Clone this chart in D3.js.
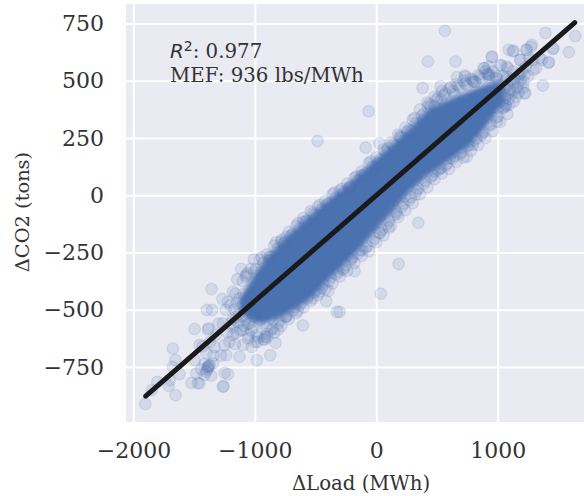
<!DOCTYPE html>
<html>
<head>
<meta charset="utf-8">
<script src="https://cdn.jsdelivr.net/npm/d3@7"></script>
<style>
  html, body { margin: 0; background: #fff; }
  svg { display: block; }
  text { font-family: "DejaVu Serif", serif; fill: #333; }
</style>
</head>
<body>
<div id="scatterplot-container"></div>
<script>
const xTicks = [-2000, -1000, 0, 1000];
const yTicks = [-750, -500, -250, 0, 250, 500, 750];

// regression line ends
const lineLoad = [-1899, 1635];
const lineCo2 = [-877, 754];

// the saturated middle of the cloud, read as an envelope
const coreLoad = [-1126, -1043, -961, -879, -796, -714, -632, -549, -385, -220, -55, 110, 274, 439, 604, 768, 933, 1057];
const coreUpper = [-455, -375, -312, -257, -213, -169, -130, -90, -16, 54, 132, 211, 290, 381, 421, 456, 491, 495];
const coreLower = [-500, -545, -560, -552, -536, -510, -484, -453, -366, -280, -188, -88, 14, 93, 154, 215, 320, 408];

// outliers read one by one
const outlierPoints = [
  [-483,237],[565,718],[425,584],[653,584],[381,468],[530,476],[664,516],[730,523],[-63,367],[-88,208],
  [27,227],[746,169],[1394,709],[1639,695],[1586,625],[1372,479],[1092,635],[955,603],[1454,639],[1421,581],
  [1276,649],[1235,635],[1125,628],[1188,591],[1345,599],[892,555],[1029,566],[1084,555],[933,526],[795,496],
  [1317,555],[1221,446],[645,441],[535,419],[425,385],[480,390],[384,326],[288,282],[198,253],[96,205],
  [-6,125],[-124,86],[-220,31],[795,220],[865,263],[604,162],[535,118],[480,103],[324,4],[233,-6],
  [170,-82],[346,-120],[104,-142],[27,-163],[-115,-239],[-206,-280],[-179,-331],[-275,-326],[184,-300],[38,-430],
  [-302,-509],[-1902,-911],[-1848,-851],[-1803,-815],[-1653,-873],[-1710,-832],[-1702,-807],[-1675,-669],[-1653,-720],[-1675,-749],
  [-1620,-781],[-1523,-819],[-1455,-822],[-1469,-819],[-1257,-833],[-1263,-836],[-1222,-781],[-1249,-775],[-1359,-788],[-1414,-785],
  [-1482,-778],[-1387,-749],[-1414,-737],[-1373,-742],[-1346,-734],[-1496,-720],[-1455,-654],[-1496,-584],[-1387,-586],[-1380,-580],
  [-1395,-501],[-1351,-501],[-1356,-409],[-1268,-453],[-1222,-465],[-1181,-421],[-1145,-367],[-1112,-322],[-1008,-280],[-1071,-348],
  [-879,-268],[-782,-203],[-741,-181],[-604,-115],[-1332,-662],[-1249,-654],[-1235,-698],[-1126,-705],[-1099,-654],[-1024,-662],
  [-983,-720],[-873,-698],[-829,-644],[-898,-620],[-810,-586],[-604,-568],[-741,-530],[-645,-504],[-412,-462],[-393,-417],
  [-324,-509],[-522,-450],[-467,-421],[-851,-545],[-1181,-610],[-1263,-559],[-1181,-574],[-1099,-589],[-1043,-559],[-961,-545],
  [-906,-574],[-1153,-530],[1131,631],[952,606],[1281,657],[1240,635],[1186,591],[1419,579],[1460,642],[1364,591],
  [1295,548],[1227,446],[1172,447],[1131,409],[884,555],[925,562],[1021,569],[1075,562],[733,518],[815,496],
  [925,526],[993,511],[1075,518],[1213,496],[1172,518],[1131,496],[1103,460],[1062,424],[1048,381],[993,322]
];

// points along the top edge of the cloud
const upperEdgePoints = [
  [-1100,-375],[-1060,-340],[-1030,-320],[-990,-322],[-960,-280],[-930,-295],[-900,-258],[-870,-270],[-840,-220],[-810,-232],
  [-780,-195],[-750,-205],[-720,-160],[-690,-170],[-660,-135],[-630,-145],[-600,-100],[-570,-110],[-540,-70],[-510,-85],
  [-480,-50],[-450,-60],[-420,-25],[-390,-35],[-360,5],[-330,-10],[-300,20],[-270,10],[-240,50],[-210,40],
  [-180,75],[-150,65],[-120,105],[-90,95],[-60,140],[-30,125],[0,165],[30,155],[60,200],[90,185],
  [120,230],[150,215],[180,265],[210,250],[240,295],[270,285],[300,330],[330,315],[360,375],[390,355],
  [420,405],[450,390],[480,430],[510,425],[540,455],[570,445],[600,465],[630,455],[660,485],[690,470],
  [720,500],[750,480],[780,510],[810,495],[840,525],[870,510],[900,540],[930,515],[960,540],[990,520],
  [-1075,-355],[-1005,-335],[-945,-272],[-885,-285],[-825,-205],[-765,-212],[-705,-178],[-645,-122],[-585,-118],[-525,-78],
  [-465,-42],[-405,-40],[-345,12],[-285,28],[-225,33],[-165,82],[-105,88],[-45,148],[15,140],[75,192],
  [135,222],[195,258],[255,277],[315,338],[375,347],[435,398],[495,418],[555,438],[615,472],[675,478],[735,488],[795,503],[855,518],[915,530],[975,512]
];

// points along the bottom edge of the cloud
const lowerEdgePoints = [
  [-1000,-640],[-970,-620],[-930,-630],[-900,-605],[-870,-590],[-840,-600],[-810,-560],[-780,-570],[-750,-530],[-720,-540],
  [-690,-505],[-660,-515],[-630,-480],[-600,-490],[-570,-450],[-540,-460],[-510,-425],[-480,-435],[-450,-405],[-420,-410],
  [-390,-375],[-360,-385],[-330,-345],[-300,-355],[-270,-320],[-240,-330],[-210,-280],[-180,-295],[-150,-255],[-120,-265],
  [-90,-230],[-60,-245],[-30,-200],[0,-205],[30,-165],[60,-175],[90,-125],[120,-135],[150,-85],[180,-95],
  [210,-50],[240,-65],[270,-20],[300,-35],[330,20],[360,5],[390,50],[420,35],[450,80],[480,70],
  [510,110],[540,95],[570,130],[600,115],[630,160],[660,145],[690,180],[720,165],[750,215],[780,195],
  [810,240],[840,220],[870,270],[900,250],[930,305],[960,280],[990,340],[1020,320],[1050,385],[1080,355],
  [-985,-612],[-915,-618],[-855,-582],[-795,-548],[-735,-525],[-675,-490],[-615,-468],[-555,-440],[-495,-415],[-435,-388],
  [-375,-358],[-315,-335],[-255,-305],[-195,-270],[-135,-240],[-75,-222],[-15,-188],[45,-150],[105,-112],[165,-72],
  [225,-38],[285,-8],[345,30],[405,62],[465,88],[525,118],[585,138],[645,170],[705,188],[765,220],[825,248],[885,275],[945,310],[1005,345],[1065,395]
];

// thinner clusters at both ends of the cloud
const endClusterPoints = [
  [1000,380],[1030,440],[1060,470],[1090,420],[1110,500],[1130,460],[1150,430],[1170,490],[1040,410],[1070,390],
  [1100,450],[1010,480],[1200,540],[1230,560],[1260,600],[1180,530],[1210,470],[1250,520],[1290,590],[1085,480],
  [1120,445],[1055,440],[1140,510],[1095,395],[1160,470],[1075,505],[1125,540],[1190,500],[1220,525],[1045,520],
  [-1240,-500],[-1200,-480],[-1180,-540],[-1150,-470],[-1130,-520],[-1100,-480],[-1080,-540],[-1060,-500],[-1040,-450],[-1030,-590],
  [-1010,-530],[-990,-470],[-980,-640],[-960,-560],[-940,-520],[-920,-630],[-1120,-590],[-1160,-430],[-1090,-430],[-1050,-610],
  [-1000,-430],[-960,-420],[-1210,-640],[-1280,-700],[-1320,-610],[-1300,-560],[-1340,-700],[-1400,-690],[-1430,-660],[-1370,-640],
  [-1440,-760],[-1400,-770],[-1385,-752],[-1378,-745],[-1390,-760],[-1170,-500],[-1140,-555],[-1110,-530],[-1090,-570],[-1070,-465],
  [-1150,-600],[-1125,-450],[-1085,-505],[-1060,-560],[-1055,-625],[-1030,-510],[-1015,-575],[-1200,-560],[-1225,-600],[-1165,-650]
];

displayScatterplot();

function displayScatterplot() {
  const width = 584;
  const height = 496;
  const plot = { left: 126, right: 584, top: 4, bottom: 422 };
  const dotColor = '#4c72b0';

  const svg = d3.select('#scatterplot-container').append('svg')
      .attr('width', width)
      .attr('height', height);

  // soft edge for the saturated area
  svg.append('defs').append('filter')
      .attr('id', 'core-soften')
      .append('feGaussianBlur')
      .attr('stdDeviation', 2);

  const xScale = d3.scaleLinear([-2061, 1711], [plot.left, plot.right]);
  const yScale = d3.scaleLinear([-990, 835], [plot.bottom, plot.top]);

  svg.append('rect')
      .attr('x', plot.left)
      .attr('y', plot.top)
      .attr('width', plot.right - plot.left)
      .attr('height', plot.bottom - plot.top)
      .attr('fill', '#eaeaf2');

  const xAxis = d3.axisBottom(xScale).tickValues(xTicks).tickFormat(d3.format('d')).tickSize(plot.top - plot.bottom).tickPadding(20);
  const yAxis = d3.axisLeft(yScale).tickValues(yTicks).tickFormat(d3.format('d')).tickSize(plot.left - plot.right).tickPadding(22);

  const xGroup = svg.append('g')
      .attr('transform', `translate(0, ${plot.bottom})`)
      .call(xAxis);
  const yGroup = svg.append('g')
      .attr('transform', `translate(${plot.left}, 0)`)
      .call(yAxis);

  [xGroup, yGroup].forEach(group => {
    group.select('.domain').remove();
    group.selectAll('.tick line').attr('stroke', '#fff').attr('stroke-width', 2);
    group.selectAll('.tick text')
        .style('font-family', '"DejaVu Serif", serif')
        .style('font-size', '22px')
        .attr('fill', '#333');
  });

  const coreArea = d3.area()
      .x((d, i) => xScale(d))
      .y0((d, i) => yScale(coreLower[i]))
      .y1((d, i) => yScale(coreUpper[i]))
      .curve(d3.curveLinear);

  svg.append('path')
      .attr('d', coreArea(coreLoad))
      .attr('fill', dotColor)
      .attr('filter', 'url(#core-soften)');

  const allPoints = outlierPoints.concat(upperEdgePoints, lowerEdgePoints, endClusterPoints);

  svg.append('g').selectAll('circle')
      .data(allPoints)
      .join('circle')
      .attr('cx', d => xScale(d[0]))
      .attr('cy', d => yScale(d[1]))
      .attr('r', 5.8)
      .attr('fill', dotColor)
      .attr('fill-opacity', 0.14)
      .attr('stroke', dotColor)
      .attr('stroke-opacity', 0.14)
      .attr('stroke-width', 1.3);

  svg.append('line')
      .attr('x1', xScale(lineLoad[0]))
      .attr('y1', yScale(lineCo2[0]))
      .attr('x2', xScale(lineLoad[1]))
      .attr('y2', yScale(lineCo2[1]))
      .attr('stroke', '#1a1a1a')
      .attr('stroke-width', 5)
      .attr('stroke-linecap', 'round');

  // annotation, R is drawn like matplotlib mathtext
  const r2 = svg.append('text')
      .attr('x', 170)
      .attr('y', 58)
      .style('font-size', '19.8px');
  r2.append('tspan')
      .style('font-family', '"DejaVu Sans", sans-serif')
      .style('font-style', 'italic')
      .text('R');
  r2.append('tspan')
      .attr('dy', -7)
      .style('font-family', '"DejaVu Sans", sans-serif')
      .style('font-size', '14px')
      .text('2');
  r2.append('tspan')
      .attr('dy', 7)
      .text(': 0.977');

  svg.append('text')
      .attr('x', 170)
      .attr('y', 82)
      .style('font-size', '19.8px')
      .text('MEF: 936 lbs/MWh');

  svg.append('text')
      .attr('x', 361)
      .attr('y', 490)
      .attr('text-anchor', 'middle')
      .style('font-size', '19.7px')
      .text('ΔLoad (MWh)');

  svg.append('text')
      .attr('transform', 'translate(29, 212) rotate(-90)')
      .attr('text-anchor', 'middle')
      .style('font-size', '19.4px')
      .text('ΔCO2 (tons)');
}
</script>
</body>
</html>
